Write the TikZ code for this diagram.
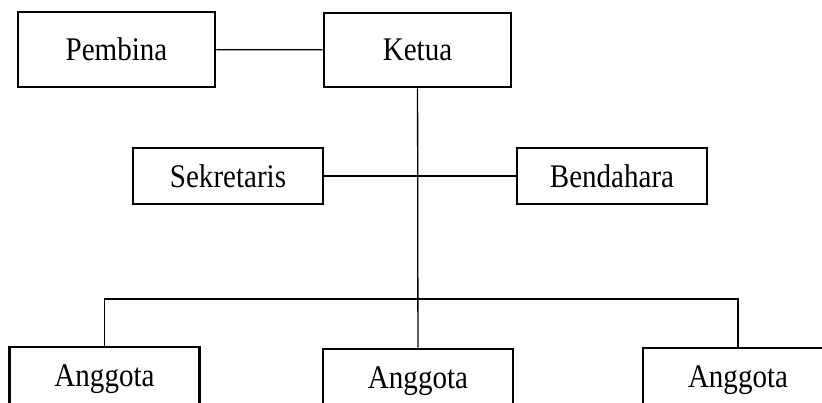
\documentclass[tikz,border=0pt]{standalone}
\usepackage{fontspec}
\setmainfont{Liberation Serif}
\newfontfamily\hurufkotak[FakeStretch=0.88]{Liberation Serif}
\begin{document}
\begin{tikzpicture}[
    x=1pt, y=-1pt,
    kotak/.style={draw, rectangle, line width=2.6pt, inner sep=0pt,
        minimum width=190pt, minimum height=56pt,
        font=\hurufkotak\fontsize{33}{38}\selectfont},
    garis/.style={line width=1.3pt}
]
\clip (0,0) rectangle (822,403);
\node[kotak, minimum width=197pt, minimum height=75pt] (pembina) at (116.5,49.5) {Pembina};
\node[kotak, minimum width=187pt, minimum height=74pt] (ketua) at (417.5,50) {Ketua};
\node[kotak] (sekretaris) at (228,176) {Sekretaris};
\node[kotak] (bendahara) at (612,176) {Bendahara};
\node[kotak, minimum height=64pt] (anggota1) at (104.5,379) {Anggota};
\node[kotak, minimum height=64pt] (anggota2) at (418,381) {Anggota};
\node[kotak, minimum height=64pt] (anggota3) at (738,380) {Anggota};
% Garis penghubung
\coordinate (cabang) at (418,299);
\draw[garis] (pembina) -- (ketua);
\draw[garis] (ketua) -- (anggota2);
\draw[garis] (sekretaris) -- (bendahara);
\draw[garis] (anggota1.north) |- (cabang) -| (anggota3.north);
\end{tikzpicture}
\end{document}
